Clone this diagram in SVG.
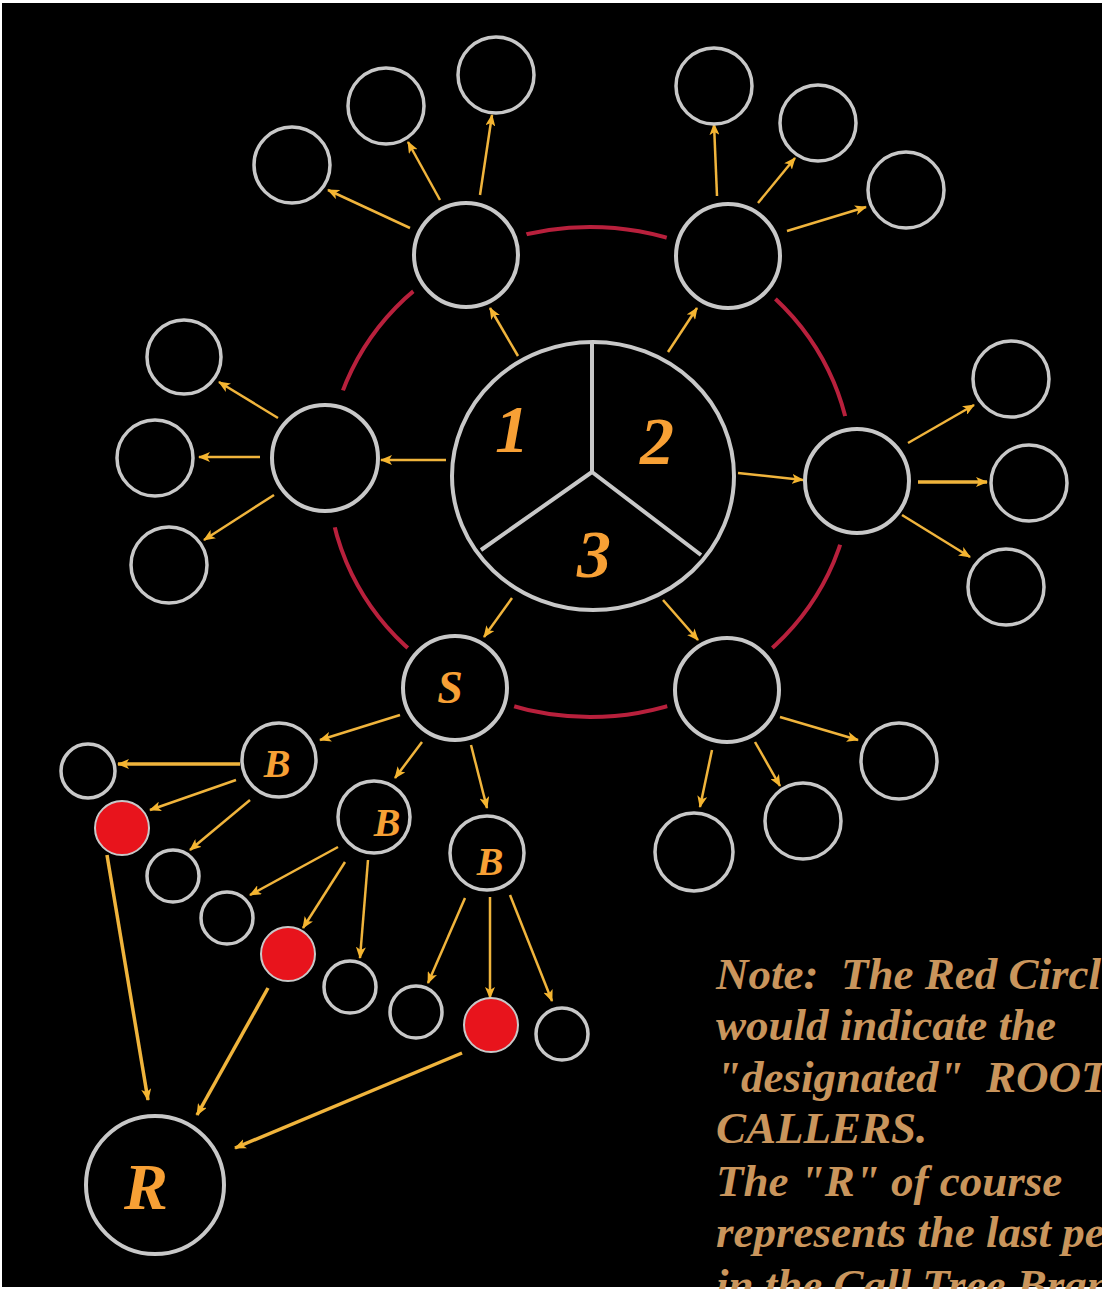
<svg xmlns="http://www.w3.org/2000/svg" width="1102" height="1289" viewBox="0 0 1102 1289">
<style>
.node{fill:#000;stroke:#c8c8c8;stroke-width:4}
.halo{fill:#000;stroke:none}
.leaf{fill:#000;stroke:#c8c8c8;stroke-width:3.5}
.red{fill:#e8141c;stroke:#c8c8c8;stroke-width:2}
.cn{stroke:#f0b43c;stroke-width:2.5;fill:none;marker-end:url(#ah)}
.cn.thick{stroke-width:3.5}
.lbl{font-family:"Liberation Serif","Times New Roman",serif;font-weight:bold;font-style:italic;fill:#f7a035;text-anchor:middle}
.note{font-family:"Liberation Serif","Times New Roman",serif;font-weight:bold;font-style:italic;fill:#c9955c;font-size:45px;white-space:pre}
</style>
<defs>
<marker id="ah" markerUnits="userSpaceOnUse" markerWidth="12" markerHeight="10" refX="11" refY="5" orient="auto">
<path d="M0,0 L12,5 L0,10 L3,5 z" fill="#f5b530"/>
</marker>
</defs>
<rect x="0" y="0" width="1102" height="1289" fill="#ffffff"/>
<rect x="2" y="3" width="1100" height="1284" fill="#000000"/>
<ellipse id="ring" cx="590" cy="472" rx="262" ry="245" fill="none" stroke="#b8203c" stroke-width="4"/>
<g id="ring-gaps">
<circle class="halo" cx="466" cy="255" r="64"/>
<circle class="halo" cx="728" cy="256" r="64"/>
<circle class="halo" cx="325" cy="458" r="70"/>
<circle class="halo" cx="857" cy="481" r="66"/>
<circle class="halo" cx="455" cy="688" r="62"/>
<circle class="halo" cx="727" cy="690" r="62"/>
</g>

<g id="connectors">
<line class="cn" x1="518" y1="356" x2="490" y2="308"/>
<line class="cn" x1="668" y1="352" x2="697" y2="308"/>
<line class="cn" x1="446" y1="460" x2="381" y2="460"/>
<line class="cn" x1="738" y1="473" x2="803" y2="480"/>
<line class="cn" x1="512" y1="598" x2="484" y2="637"/>
<line class="cn" x1="663" y1="600" x2="698" y2="640"/>
<line class="cn" x1="410" y1="228" x2="328" y2="190"/>
<line class="cn" x1="440" y1="200" x2="408" y2="142"/>
<line class="cn" x1="480" y1="195" x2="492" y2="115"/>
<line class="cn" x1="717" y1="196" x2="714" y2="124"/>
<line class="cn" x1="758" y1="203" x2="795" y2="158"/>
<line class="cn" x1="787" y1="231" x2="866" y2="207"/>
<line class="cn" x1="278" y1="418" x2="219" y2="382"/>
<line class="cn" x1="260" y1="457" x2="199" y2="457"/>
<line class="cn" x1="274" y1="495" x2="204" y2="540"/>
<line class="cn" x1="908" y1="443" x2="974" y2="405"/>
<line class="cn thick" x1="918" y1="482" x2="987" y2="482"/>
<line class="cn" x1="902" y1="515" x2="970" y2="557"/>
<line class="cn" x1="780" y1="717" x2="858" y2="740"/>
<line class="cn" x1="755" y1="742" x2="780" y2="786"/>
<line class="cn" x1="712" y1="750" x2="700" y2="807"/>
<line class="cn" x1="400" y1="715" x2="320" y2="740"/>
<line class="cn" x1="422" y1="742" x2="395" y2="778"/>
<line class="cn" x1="471" y1="745" x2="487" y2="808"/>
<line class="cn thick" x1="240" y1="764" x2="118" y2="764"/>
<line class="cn" x1="236" y1="780" x2="150" y2="810"/>
<line class="cn" x1="250" y1="800" x2="190" y2="850"/>
<line class="cn" x1="338" y1="847" x2="250" y2="895"/>
<line class="cn" x1="345" y1="862" x2="303" y2="928"/>
<line class="cn" x1="368" y1="860" x2="360" y2="958"/>
<line class="cn" x1="465" y1="898" x2="428" y2="983"/>
<line class="cn" x1="490" y1="897" x2="490" y2="998"/>
<line class="cn" x1="510" y1="895" x2="552" y2="1001"/>
<line class="cn thick" x1="107" y1="855" x2="148" y2="1100"/>
<line class="cn thick" x1="268" y1="988" x2="197" y2="1115"/>
<line class="cn thick" x1="462" y1="1053" x2="235" y2="1148"/>
</g>

<g id="center">
<ellipse class="node" cx="593" cy="476" rx="141" ry="134"/>
<path d="M592,342 L592,472 M592,472 L481,550 M592,472 L701,555" fill="none" stroke="#c8c8c8" stroke-width="4"/>
<text class="lbl" x="512" y="452" font-size="68">1</text>
<text class="lbl" x="657" y="464" font-size="68">2</text>
<text class="lbl" x="594" y="577" font-size="68">3</text>
</g>

<g id="n-topleft"><circle class="node" cx="466" cy="255" r="52"/></g>
<g id="n-topright"><circle class="node" cx="728" cy="256" r="52"/></g>
<g id="n-left"><circle class="node" cx="325" cy="458" r="53"/></g>
<g id="n-right"><circle class="node" cx="857" cy="481" r="52"/></g>
<g id="n-S"><circle class="node" cx="455" cy="688" r="52"/><text class="lbl" x="450" y="703" font-size="46">S</text></g>
<g id="n-bottomright"><circle class="node" cx="727" cy="690" r="52"/></g>

<g id="l-tl1"><circle class="leaf" cx="292" cy="165" r="38"/></g>
<g id="l-tl2"><circle class="leaf" cx="386" cy="106" r="38"/></g>
<g id="l-tl3"><circle class="leaf" cx="496" cy="75" r="38"/></g>
<g id="l-tr1"><circle class="leaf" cx="714" cy="86" r="38"/></g>
<g id="l-tr2"><circle class="leaf" cx="818" cy="123" r="38"/></g>
<g id="l-tr3"><circle class="leaf" cx="906" cy="190" r="38"/></g>
<g id="l-l1"><circle class="leaf" cx="184" cy="357" r="37"/></g>
<g id="l-l2"><circle class="leaf" cx="155" cy="458" r="38"/></g>
<g id="l-l3"><circle class="leaf" cx="169" cy="565" r="38"/></g>
<g id="l-r1"><circle class="leaf" cx="1011" cy="379" r="38"/></g>
<g id="l-r2"><circle class="leaf" cx="1029" cy="483" r="38"/></g>
<g id="l-r3"><circle class="leaf" cx="1006" cy="587" r="38"/></g>
<g id="l-br1"><circle class="leaf" cx="899" cy="761" r="38"/></g>
<g id="l-br2"><circle class="leaf" cx="803" cy="821" r="38"/></g>
<g id="l-br3"><circle class="leaf" cx="694" cy="852" r="39"/></g>

<g id="b1"><circle class="leaf" cx="279" cy="760" r="37"/><text class="lbl" x="277" y="777" font-size="40">B</text></g>
<g id="b2"><circle class="leaf" cx="374" cy="817" r="36"/><text class="lbl" x="387" y="836" font-size="40">B</text></g>
<g id="b3"><circle class="leaf" cx="487" cy="853" r="37"/><text class="lbl" x="490" y="875" font-size="40">B</text></g>

<g id="s1"><circle class="leaf" cx="88" cy="771" r="27"/></g>
<g id="red1"><circle class="red" cx="122" cy="828" r="27"/></g>
<g id="s2"><circle class="leaf" cx="173" cy="876" r="26"/></g>
<g id="s3"><circle class="leaf" cx="227" cy="918" r="26"/></g>
<g id="red2"><circle class="red" cx="288" cy="954" r="27"/></g>
<g id="s4"><circle class="leaf" cx="350" cy="987" r="26"/></g>
<g id="s5"><circle class="leaf" cx="416" cy="1012" r="26"/></g>
<g id="red3"><circle class="red" cx="491" cy="1025" r="27"/></g>
<g id="s6"><circle class="leaf" cx="562" cy="1034" r="26"/></g>

<g id="R"><circle class="node" cx="155" cy="1185" r="69"/><text class="lbl" x="146" y="1209" font-size="66">R</text></g>

<g id="note">
<text class="note" x="716" y="989">Note:  The Red Circl</text>
<text class="note" x="716" y="1040">would indicate the</text>
<text class="note" x="716" y="1092">"designated"  ROOT</text>
<text class="note" x="716" y="1143">CALLERS.</text>
<text class="note" x="716" y="1196">The "R" of course</text>
<text class="note" x="716" y="1247">represents the last pe</text>
<text class="note" x="716" y="1300">in the Call Tree Bran</text>
</g>
</svg>
